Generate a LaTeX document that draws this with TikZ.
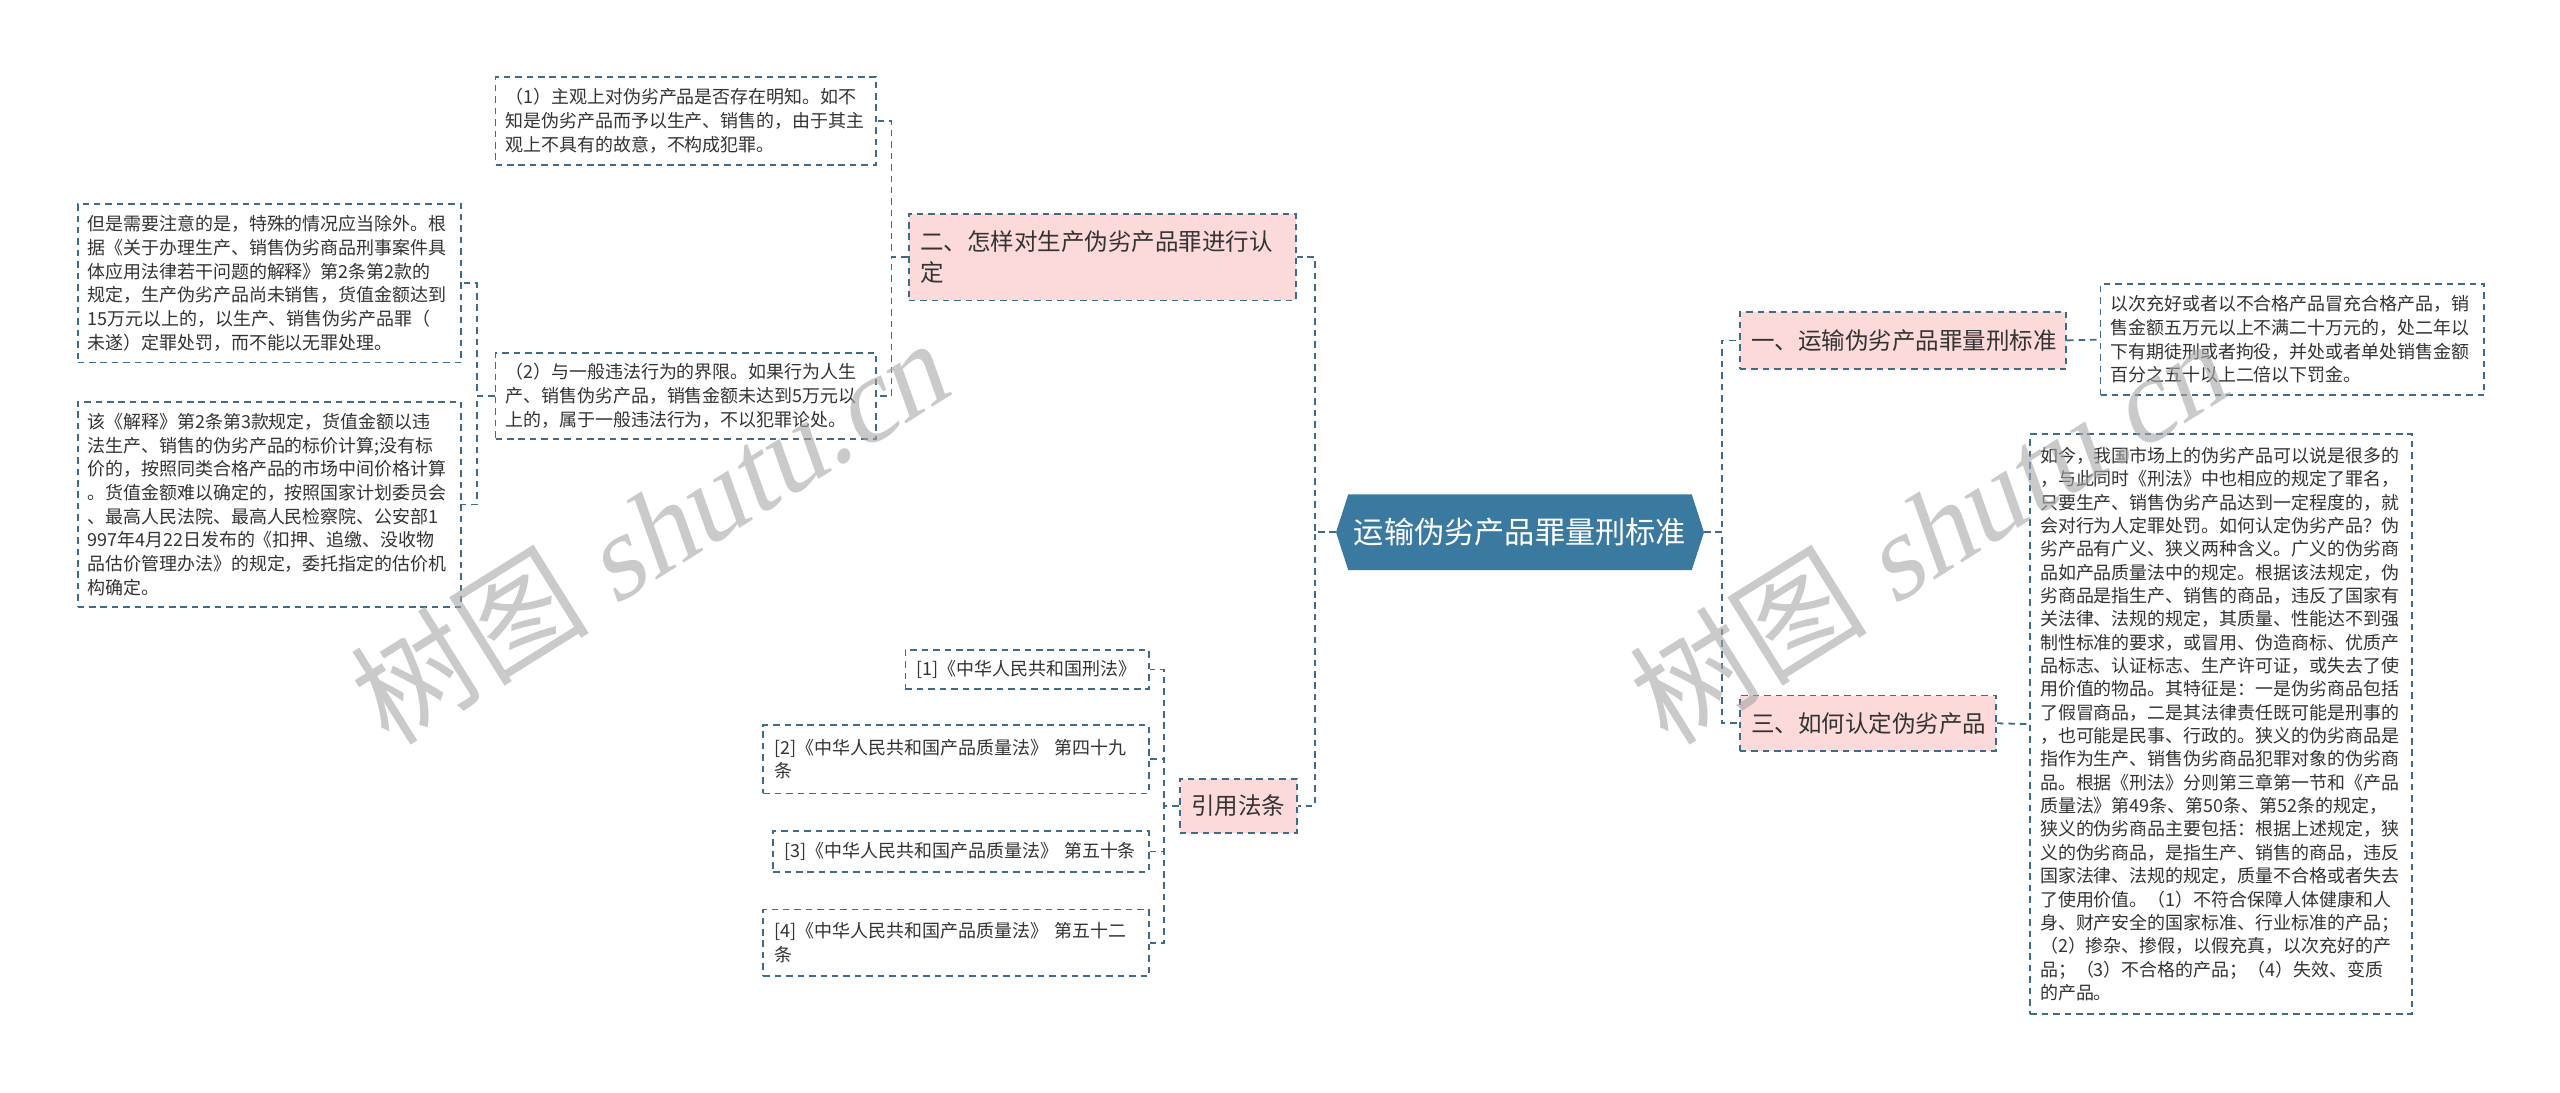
\documentclass[tikz,border=0pt]{standalone}
\usepackage{fontspec}
\setmainfont{Noto Sans CJK SC}
\newfontfamily\wmlatin{Liberation Serif}[FakeSlant=0.22]
\usetikzlibrary{backgrounds}
\definecolor{bordc}{HTML}{3E6C88}
\definecolor{pinkc}{HTML}{FCDADA}
\definecolor{centc}{HTML}{3A7AA1}
\definecolor{txtc}{HTML}{333333}
\tikzset{
  dsh/.style={dash pattern=on 4pt off 3pt},
  leaf/.style={draw=bordc, line width=1.1pt, dsh, fill=white, anchor=west,
    inner xsep=6pt, inner ysep=3pt, align=left, text=txtc,
    font=\fontsize{11}{14.5}\selectfont},
  branch/.style={leaf, fill=pinkc, inner xsep=7pt,
    font=\fontsize{14.4}{19}\selectfont},
  conn/.style={draw=bordc, line width=1.1pt, dsh},
  wm/.style={text=black!35, opacity=0.6, rotate=32, inner sep=0pt}
}
\begin{document}
\begin{tikzpicture}[x=1pt,y=-1pt]
\useasboundingbox (0,0) rectangle (1568,669.4);

% central
\node[font=\fontsize{18.5}{22}\selectfont, text=white, minimum width=210pt,
  minimum height=46pt, inner sep=0pt] (c) at (931,326) {运输伪劣产品罪量刑标准};
\begin{pgfonlayer}{background}
\fill[centc] (c.north west) -- (c.north east) -- ([xshift=7.5pt]c.east)
  -- (c.south east) -- (c.south west) -- ([xshift=-7.5pt]c.west) -- cycle;
\end{pgfonlayer}

% branches
\node[branch, text width=223pt, minimum height=53pt] (b2) at (556,157.5)
  {二、怎样对生产伪劣产品罪进行认\\定};
\node[branch, text width=58pt, minimum height=33pt] (law) at (722,493.5) {引用法条};
\node[branch, text width=186pt, minimum height=35pt] (b1) at (1065,208.5)
  {一、运输伪劣产品罪量刑标准};
\node[branch, text width=143pt, minimum height=34pt] (b3) at (1065,443)
  {三、如何认定伪劣产品};

% left leaves
\node[leaf, text width=221pt, minimum height=54pt] (l1) at (303,74)
  {（1）主观上对伪劣产品是否存在明知。如不\\知是伪劣产品而予以生产、销售的，由于其主\\观上不具有的故意，不构成犯罪。};
\node[leaf, text width=221pt, minimum height=53pt] (l2) at (303,242.5)
  {（2）与一般违法行为的界限。如果行为人生\\产、销售伪劣产品，销售金额未达到5万元以\\上的，属于一般违法行为，不以犯罪论处。};
\node[leaf, text width=223pt, minimum height=97pt] (l2a) at (47,173.5)
  {但是需要注意的是，特殊的情况应当除外。根\\据《关于办理生产、销售伪劣商品刑事案件具\\体应用法律若干问题的解释》第2条第2款的\\规定，生产伪劣产品尚未销售，货值金额达到\\15万元以上的，以生产、销售伪劣产品罪（\\未遂）定罪处罚，而不能以无罪处理。};
\node[leaf, text width=223pt, minimum height=126pt] (l2b) at (47,309)
  {该《解释》第2条第3款规定，货值金额以违\\法生产、销售的伪劣产品的标价计算;没有标\\价的，按照同类合格产品的市场中间价格计算\\。货值金额难以确定的，按照国家计划委员会\\、最高人民法院、最高人民检察院、公安部1\\997年4月22日发布的《扣押、追缴、没收物\\品估价管理办法》的规定，委托指定的估价机\\构确定。};

% law leaves
\node[leaf, text width=135pt, minimum height=24pt, inner xsep=7pt] (c1) at (554,410)
  {[1]《中华人民共和国刑法》};
\node[leaf, text width=222pt, minimum height=42pt, inner xsep=7pt] (c2) at (467,465)
  {[2]《中华人民共和国产品质量法》 第四十九\\条};
\node[leaf, text width=216pt, minimum height=25pt, inner xsep=7pt] (c3) at (473,521.5)
  {[3]《中华人民共和国产品质量法》 第五十条};
\node[leaf, text width=222pt, minimum height=41pt, inner xsep=7pt] (c4) at (467,577.5)
  {[4]《中华人民共和国产品质量法》 第五十二\\条};

% right leaves
\node[leaf, text width=223pt, minimum height=68pt] (r1) at (1286,208)
  {以次充好或者以不合格产品冒充合格产品，销\\售金额五万元以上不满二十万元的，处二年以\\下有期徒刑或者拘役，并处或者单处销售金额\\百分之五十以上二倍以下罚金。};
\node[leaf, text width=222pt, minimum height=355pt, font=\fontsize{11}{14.3}\selectfont] (r3) at (1243,443.5)
  {如今，我国市场上的伪劣产品可以说是很多的\\，与此同时《刑法》中也相应的规定了罪名，\\只要生产、销售伪劣产品达到一定程度的，就\\会对行为人定罪处罚。如何认定伪劣产品？伪\\劣产品有广义、狭义两种含义。广义的伪劣商\\品如产品质量法中的规定。根据该法规定，伪\\劣商品是指生产、销售的商品，违反了国家有\\关法律、法规的规定，其质量、性能达不到强\\制性标准的要求，或冒用、伪造商标、优质产\\品标志、认证标志、生产许可证，或失去了使\\用价值的物品。其特征是：一是伪劣商品包括\\了假冒商品，二是其法律责任既可能是刑事的\\，也可能是民事、行政的。狭义的伪劣商品是\\指作为生产、销售伪劣商品犯罪对象的伪劣商\\品。根据《刑法》分则第三章第一节和《产品\\质量法》第49条、第50条、第52条的规定，\\狭义的伪劣商品主要包括：根据上述规定，狭\\义的伪劣商品，是指生产、销售的商品，违反\\国家法律、法规的规定，质量不合格或者失去\\了使用价值。（1）不符合保障人体健康和人\\身、财产安全的国家标准、行业标准的产品；\\（2）掺杂、掺假，以假充真，以次充好的产\\品；（3）不合格的产品；（4）失效、变质\\的产品。};

% connectors
\draw[conn] ([xshift=-7.5pt]c.west) -- ++(-13,0) |- (b2.east);
\draw[conn] ([xshift=-7.5pt]c.west) -- ++(-13,0) |- (law.east);
\draw[conn] ([xshift=7.5pt]c.east) -- ++(11,0) |- (b1.west);
\draw[conn] ([xshift=7.5pt]c.east) -- ++(11,0) |- (b3.west);
\draw[conn] (b2.west) -- ++(-10,0) |- (l1.east);
\draw[conn] (b2.west) -- ++(-10,0) |- (l2.east);
\draw[conn] (l2.west) -- ++(-11,0) |- (l2a.east);
\draw[conn] (l2.west) -- ++(-11,0) |- (l2b.east);
\draw[conn] (law.west) -- ++(-9,0) |- (c1.east);
\draw[conn] (law.west) -- ++(-9,0) |- (c2.east);
\draw[conn] (law.west) -- ++(-9,0) |- (c3.east);
\draw[conn] (law.west) -- ++(-9,0) |- (c4.east);
\draw[conn] (b1.east) -- (r1.west);
\draw[conn] (b3.east) -- (r3.west);

% watermarks
\node[wm] (wm1) at (397,326) {\fontsize{73}{76}\selectfont 树图 {\wmlatin shutu.cn}};
\node[wm] (wm2) at (1180,326) {\fontsize{73}{76}\selectfont 树图 {\wmlatin shutu.cn}};
\end{tikzpicture}
\end{document}
